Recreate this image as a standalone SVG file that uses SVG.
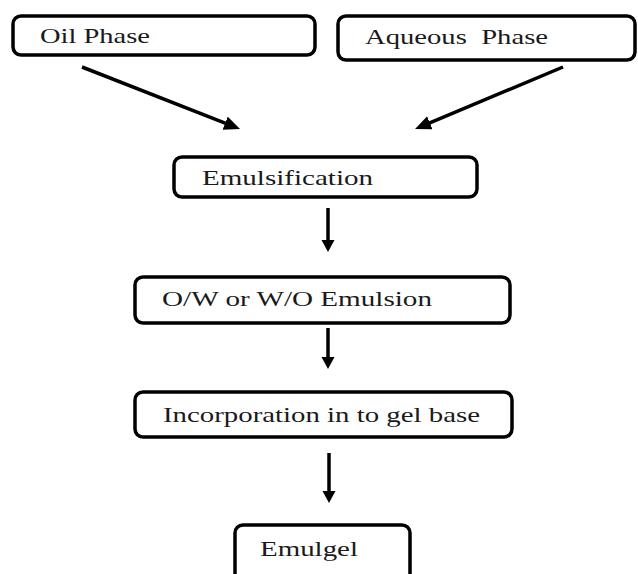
<svg xmlns="http://www.w3.org/2000/svg" width="638" height="574" viewBox="0 0 638 574">
<style>
.box{fill:#fff;stroke:#000;stroke-width:3.5}
.lbl{font-family:"Liberation Serif","DejaVu Serif","Times New Roman",serif;font-size:22px;fill:#1a1a1a}
.arr{stroke:#000;stroke-width:3.5;fill:none}
</style>
<defs>
<marker id="hd" markerUnits="userSpaceOnUse" markerWidth="18" markerHeight="16" refX="2" refY="7" orient="auto">
<path d="M0,0 L16,7 L0,14 z" fill="#000"/>
</marker>
<marker id="hv" markerUnits="userSpaceOnUse" markerWidth="14" markerHeight="14" refX="2" refY="6.5" orient="auto">
<path d="M0,0 L12,6.5 L0,13 z" fill="#000"/>
</marker>
</defs>
<rect width="638" height="574" fill="#fff"/>
<g id="connectors">
<line class="arr" x1="82" y1="67" x2="227" y2="123.9" marker-end="url(#hd)"/>
<line class="arr" x1="563" y1="67" x2="428" y2="123.6" marker-end="url(#hd)"/>
<line class="arr" x1="328" y1="208" x2="328" y2="242" marker-end="url(#hv)"/>
<line class="arr" x1="328" y1="328" x2="328" y2="359" marker-end="url(#hv)"/>
<line class="arr" x1="329" y1="453" x2="329" y2="493" marker-end="url(#hv)"/>
</g>
<g id="oil">
<rect class="box" x="13" y="16" width="302" height="39" rx="8"/>
<text class="lbl" x="40" y="43" textLength="110" lengthAdjust="spacingAndGlyphs">Oil Phase</text>
</g>
<g id="aqueous">
<rect class="box" x="338" y="16" width="297" height="44" rx="8"/>
<text class="lbl" x="365" y="44" textLength="183" lengthAdjust="spacingAndGlyphs" xml:space="preserve">Aqueous  Phase</text>
</g>
<g id="emulsification">
<rect class="box" x="174" y="157" width="303" height="40" rx="8"/>
<text class="lbl" x="202" y="185" textLength="171" lengthAdjust="spacingAndGlyphs">Emulsification</text>
</g>
<g id="emulsion">
<rect class="box" x="135" y="277" width="375" height="46" rx="8"/>
<text class="lbl" x="162" y="306" textLength="270" lengthAdjust="spacingAndGlyphs">O/W or W/O Emulsion</text>
</g>
<g id="incorporation">
<rect class="box" x="135" y="392" width="377" height="45" rx="8"/>
<text class="lbl" x="163" y="422" textLength="317" lengthAdjust="spacingAndGlyphs">Incorporation in to gel base</text>
</g>
<g id="emulgel">
<rect class="box" x="235" y="525" width="175" height="60" rx="8"/>
<text class="lbl" x="260" y="556" textLength="98" lengthAdjust="spacingAndGlyphs">Emulgel</text>
</g>
</svg>
